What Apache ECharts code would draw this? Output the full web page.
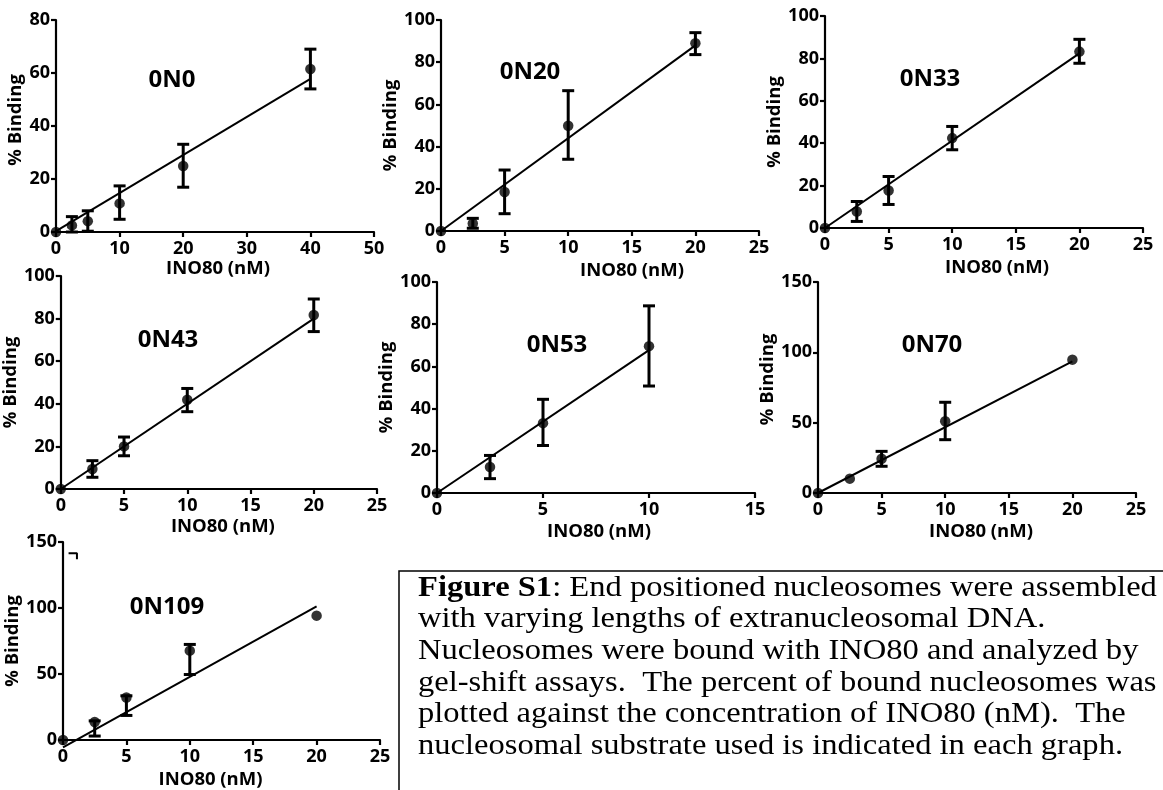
<!DOCTYPE html>
<html>
<head>
<meta charset="utf-8">
<script src="https://cdn.jsdelivr.net/npm/echarts@6/dist/echarts.min.js"></script>
<style>
html,body{margin:0;padding:0;background:#fff;}
#chart{width:1163px;height:790px;}
</style>
</head>
<body>
<div id="chart"></div>
<script>
// ---------- DATA ----------
const panelNames = ['0N0', '0N20', '0N33', '0N43', '0N53', '0N70', '0N109'];
const xMaxes = [50, 25, 25, 25, 15, 25, 25];
const xSteps = [10, 5, 5, 5, 5, 5, 5];
const yMaxes = [80, 100, 100, 100, 100, 150, 150];
const ySteps = [20, 20, 20, 20, 20, 50, 50];
const xTitle = 'INO80 (nM)';
const yTitle = '% Binding';

// INO80 concentrations (nM)
const conc0N0 = [0, 2.5, 5, 10, 20, 40];
const conc0N20 = [0, 2.5, 5, 10, 20];
const conc0N33 = [0, 2.5, 5, 10, 20];
const conc0N43 = [0, 2.5, 5, 10, 20];
const conc0N53 = [0, 2.5, 5, 10];
const conc0N70 = [0, 2.5, 5, 10, 20];
const conc0N109 = [0, 2.5, 5, 10, 20];

// % binding (means)
const bind0N0 = [0, 2.5, 4.1, 10.8, 24.9, 61.5];
const bind0N20 = [0, 3.6, 18.5, 49.9, 89];
const bind0N33 = [0, 7.8, 17.7, 42.4, 83.2];
const bind0N43 = [0, 9.4, 20, 41.9, 81.7];
const bind0N53 = [0, 12.3, 33.1, 69.6];
const bind0N70 = [0, 10.2, 24.4, 51, 94.8];
const bind0N109 = [0, 13.6, 32.2, 67.7, 94.2];

// error bar tops / bottoms (null = no bar)
const hi0N0 = [null, 5.8, 8, 17.4, 33.1, 69];
const lo0N0 = [null, 0, 0.3, 4.8, 16.9, 54];
const hi0N20 = [null, 6, 28.9, 66.5, 94];
const lo0N20 = [null, 1.3, 8.2, 34, 83.6];
const hi0N33 = [null, 12.5, 24.3, 47.9, 89];
const lo0N33 = [null, 3.1, 11.1, 36.9, 77.7];
const hi0N43 = [null, 13.3, 24.4, 47.2, 89.2];
const lo0N43 = [null, 5.5, 15.6, 36.3, 73.9];
const hi0N53 = [null, 17.8, 44.4, 88.7];
const lo0N53 = [null, 6.8, 22.5, 50.7];
const hi0N70 = [null, null, 29.6, 64.5, null];
const lo0N70 = [null, null, 19, 37.9, null];
const hi0N109 = [null, 14.5, 33.5, 72.4, null];
const lo0N109 = [null, 3, 18.6, 49.6, null];

// linear fit end points
const fitX0N0 = [0, 40];   const fitY0N0 = [0.3, 57.8];
const fitX0N20 = [0, 20];  const fitY0N20 = [0, 88];
const fitX0N33 = [0, 20];  const fitY0N33 = [0, 82.4];
const fitX0N43 = [0, 20];  const fitY0N43 = [0, 80];
const fitX0N53 = [0, 10];  const fitY0N53 = [0, 67.7];
const fitX0N70 = [0, 20];  const fitY0N70 = [0, 93.5];
const fitX0N109 = [0, 20]; const fitY0N109 = [-5.5, 101.2];

// stray corner mark in the 0N109 panel
const strayX0N109 = [0.44, 1.1, 1.1];
const strayY0N109 = [141.4, 141.4, 136.9];

const captionLines = [
  'Figure S1',
  ': End positioned nucleosomes were assembled',
  'with varying lengths of extranucleosomal DNA.',
  'Nucleosomes were bound with INO80 and analyzed by',
  'gel-shift assays.  The percent of bound nucleosomes was',
  'plotted against the concentration of INO80 (nM).  The',
  'nucleosomal substrate used is indicated in each graph.'
];

// ---------- LAYOUT ----------
const concs = [conc0N0, conc0N20, conc0N33, conc0N43, conc0N53, conc0N70, conc0N109];
const binds = [bind0N0, bind0N20, bind0N33, bind0N43, bind0N53, bind0N70, bind0N109];
const his = [hi0N0, hi0N20, hi0N33, hi0N43, hi0N53, hi0N70, hi0N109];
const los = [lo0N0, lo0N20, lo0N33, lo0N43, lo0N53, lo0N70, lo0N109];
const fitXs = [fitX0N0, fitX0N20, fitX0N33, fitX0N43, fitX0N53, fitX0N70, fitX0N109];
const fitYs = [fitY0N0, fitY0N20, fitY0N33, fitY0N43, fitY0N53, fitY0N70, fitY0N109];

const grids = [
  {left: 56, top: 20, width: 318, height: 212},
  {left: 441, top: 20, width: 318, height: 211},
  {left: 825, top: 16, width: 318, height: 212},
  {left: 59, top: 276, width: 318, height: 213},
  {left: 437, top: 282, width: 318, height: 211},
  {left: 818, top: 282, width: 318, height: 211},
  {left: 63, top: 542, width: 317, height: 201}
];
const xNameGaps = [23, 30, 30, 28, 29, 29, 30];
const xNameShift = [3, 32, 13, 4, 3, 4, -11];
const yNameGaps = [29, 29, 30, 31, 30, 26, 28];
const yNameShift = [6, 0, 0, 0, 0, 8, 0];
const labelPos = [[172, 80], [530, 72], [930, 79], [168, 340], [557, 345], [932, 345], [167, 607]];

const FONT = '"Open Sans", "DejaVu Sans", sans-serif';
const axisLineStyle = {color: '#000', width: 2.2};
const TICK_FS = 18, NAME_FS = 18.5;

const xAxes = [], yAxes = [], series = [], graphics = [];
grids.forEach((g, i) => {
  const sh = xNameShift[i];
  const ys = yNameShift[i];
  xAxes.push({
    gridIndex: i, type: 'value', min: 0, max: xMaxes[i], interval: xSteps[i],
    name: xTitle, nameLocation: 'middle', nameGap: xNameGaps[i],
    nameTextStyle: {fontFamily: FONT, fontWeight: 'bold', fontSize: NAME_FS, color: '#000',
      padding: sh >= 0 ? [0, 0, 0, 2 * sh] : [0, -2 * sh, 0, 0]},
    axisLine: {show: true, onZero: false, lineStyle: axisLineStyle},
    axisTick: {show: true, inside: false, length: 5, lineStyle: {color: '#000', width: 2.2}},
    axisLabel: {fontFamily: FONT, fontWeight: 'bold', fontSize: TICK_FS, color: '#000', margin: 8},
    splitLine: {show: false}
  });
  yAxes.push({
    gridIndex: i, type: 'value', min: 0, max: yMaxes[i], interval: ySteps[i],
    name: yTitle, nameLocation: 'middle', nameGap: yNameGaps[i],
    nameTextStyle: {fontFamily: FONT, fontWeight: 'bold', fontSize: NAME_FS, color: '#000',
      padding: [0, 0, 0, 2 * ys]},
    axisLine: {show: true, onZero: false, lineStyle: axisLineStyle},
    axisTick: {show: true, inside: false, length: 5, lineStyle: {color: '#000', width: 2.2}},
    axisLabel: {fontFamily: FONT, fontWeight: 'bold', fontSize: TICK_FS, color: '#000', margin: 6},
    splitLine: {show: false}
  });

  const errData = [];
  concs[i].forEach((x, k) => {
    if (his[i][k] !== null && los[i][k] !== null) errData.push([x, los[i][k], his[i][k]]);
  });
  series.push({
    type: 'custom', xAxisIndex: i, yAxisIndex: i, data: errData, clip: false, z: 2,
    renderItem: (params, api) => {
      const x = api.value(0);
      const p1 = api.coord([x, api.value(1)]);
      const p2 = api.coord([x, api.value(2)]);
      const w = 6;
      const st = {stroke: '#000', lineWidth: 3};
      return {type: 'group', children: [
        {type: 'line', shape: {x1: p1[0], y1: p1[1], x2: p2[0], y2: p2[1]}, style: st},
        {type: 'line', shape: {x1: p1[0] - w, y1: p1[1], x2: p1[0] + w, y2: p1[1]}, style: st},
        {type: 'line', shape: {x1: p2[0] - w, y1: p2[1], x2: p2[0] + w, y2: p2[1]}, style: st}
      ]};
    }
  });
  series.push({
    type: 'line', xAxisIndex: i, yAxisIndex: i, clip: false, z: 3,
    data: fitXs[i].map((x, k) => [x, fitYs[i][k]]),
    showSymbol: false, symbol: 'none', lineStyle: {color: '#000', width: 2}, silent: true
  });
  series.push({
    type: 'scatter', xAxisIndex: i, yAxisIndex: i, z: 4, clip: false,
    data: concs[i].map((x, k) => [x, binds[i][k]]),
    symbol: 'circle', symbolSize: 10.5, itemStyle: {color: '#000'}
  });

  graphics.push({
    type: 'text', x: labelPos[i][0], y: labelPos[i][1], z: 10,
    style: {text: panelNames[i], fill: '#000', font: 'bold 24px ' + FONT, align: 'center', verticalAlign: 'middle'}
  });
});

series.push({
  type: 'line', xAxisIndex: 6, yAxisIndex: 6, clip: false, z: 3,
  data: strayX0N109.map((x, k) => [x, strayY0N109[k]]),
  showSymbol: false, symbol: 'none', lineStyle: {color: '#000', width: 2}, silent: true
});

// caption box
graphics.push({
  type: 'rect', shape: {x: 399, y: 571, width: 900, height: 400},
  style: {fill: 'none', stroke: '#000', lineWidth: 1.5}
});
const CAPFONT = '"Liberation Serif", "Times New Roman", serif';
const capX = 418, capY0 = 588, capDy = 31.6, capScale = 1.085;
graphics.push({
  type: 'text', x: capX, y: capY0, scaleX: capScale,
  style: {
    text: '{b|' + captionLines[0] + '}' + captionLines[1],
    rich: {b: {fontWeight: 'bold', fontSize: 30, fontFamily: CAPFONT}},
    font: '30px ' + CAPFONT, fill: '#000', verticalAlign: 'middle'
  }
});
for (let k = 2; k < captionLines.length; k++) {
  graphics.push({
    type: 'text', x: capX, y: capY0 + capDy * (k - 1), scaleX: capScale,
    style: {text: captionLines[k], font: '30px ' + CAPFONT, fill: '#000', verticalAlign: 'middle'}
  });
}

const chart = echarts.init(document.getElementById('chart'), null, {renderer: 'canvas'});
chart.setOption({
  animation: false,
  backgroundColor: '#fff',
  grid: grids,
  xAxis: xAxes,
  yAxis: yAxes,
  series: series,
  graphic: graphics
});
</script>
</body>
</html>
